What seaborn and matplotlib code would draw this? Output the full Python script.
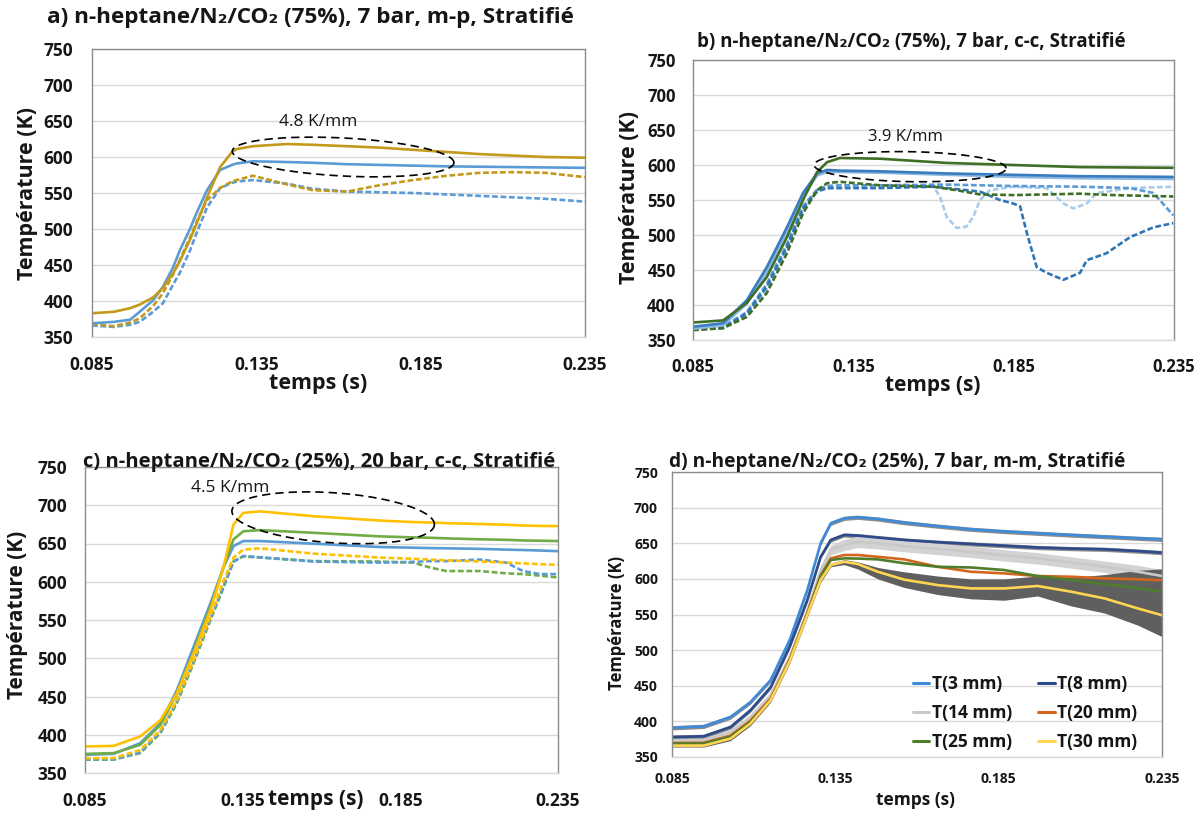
import numpy as np
import matplotlib
matplotlib.use("Agg")
import matplotlib.pyplot as plt
import seaborn as sns

# ---------------- data ----------------
XTICKS = [0.085, 0.135, 0.185, 0.235]
XTICK_LABELS = ["0.085", "0.135", "0.185", "0.235"]
YTICKS = [350, 400, 450, 500, 550, 600, 650, 700, 750]

TITLES = [
    "a) n-heptane/N\u2082/CO\u2082 (75%), 7 bar, m-p, Stratifi\u00e9",
    "b) n-heptane/N\u2082/CO\u2082 (75%), 7 bar, c-c, Stratifi\u00e9",
    "c) n-heptane/N\u2082/CO\u2082 (25%), 20 bar, c-c, Stratifi\u00e9",
    "d) n-heptane/N\u2082/CO\u2082 (25%), 7 bar, m-m, Stratifi\u00e9",
]
GRADIENTS = ["4.8 K/mm", "3.9 K/mm", "4.5 K/mm"]

# panel a
t_a = [0.085, 0.0916, 0.0966, 0.0995, 0.1036, 0.1066, 0.1097, 0.1117, 0.1148, 0.1168, 0.120, 0.124,
       0.1276, 0.129, 0.134, 0.1443, 0.152, 0.1626, 0.1727, 0.1827, 0.193, 0.203, 0.213, 0.223, 0.235]
a_gold = [383, 385, 390, 395, 405, 418, 439, 455, 485, 507, 544, 586, 607, 611, 615, 618, 617, 615, 613,
          610, 607, 604, 602, 600, 599]
a_blue = [369, 371, 374, 385, 401, 420, 447, 470, 500, 522, 554, 582, 589, 591, 594, 593, 592, 590, 589,
          588, 587, 586.5, 586, 585.5, 585]
a_gold_d = [368, 365, 370, 376, 393, 411, 437, 457, 488, 510, 540, 557, 566, 568, 574, 562, 554, 552, 561,
            568, 574, 578, 579, 578, 572]
a_blue_d = [366, 364, 367, 371, 385, 397, 423, 439, 470, 494, 530, 557, 564, 566, 568, 563, 556, 552, 551,
            550, 548, 546, 544, 542, 538]

# panel b
t_b_solid = [0.085, 0.0944, 0.1018, 0.108, 0.1143, 0.1193, 0.1237, 0.1268, 0.1308, 0.1433, 0.164, 0.1848,
             0.2057, 0.2346]
b_green = [375, 378, 403, 440, 497, 550, 590, 604, 610, 609, 603, 600, 597, 596]
b_blue = [369, 374, 407, 454, 511, 560, 588, 593, 592, 591, 588, 586, 584, 583]
b_lblue = [366, 371, 402, 448, 505, 555, 585, 590, 590, 589, 586, 583, 581, 580]
t_b_green_d = [0.085, 0.0944, 0.1018, 0.108, 0.1143, 0.1193, 0.1237, 0.1268, 0.1308, 0.1433, 0.16, 0.1672,
               0.1745, 0.1849, 0.1953, 0.2057, 0.2161, 0.2348]
b_green_d = [364, 367, 383, 417, 474, 531, 564, 574, 576, 571, 569, 564, 558, 557, 558, 559, 557, 555]
t_b_lblue_d = [0.085, 0.0944, 0.1018, 0.108, 0.1143, 0.1193, 0.1237, 0.1268, 0.1308, 0.1433, 0.16, 0.162,
               0.1641, 0.1672, 0.1703, 0.1724, 0.1745, 0.1776, 0.1849, 0.1953, 0.2005, 0.2036, 0.2078,
               0.2109, 0.2213, 0.2348]
b_lblue_d = [365, 368, 386, 422, 480, 535, 563, 567, 568, 569, 569, 555, 526, 510, 512, 526, 550, 564, 569,
             567, 545, 538, 545, 560, 567, 569]
t_b_blue_d = [0.085, 0.0944, 0.1018, 0.108, 0.1143, 0.1193, 0.1237, 0.1268, 0.1308, 0.1433, 0.16, 0.1745,
              0.1807, 0.1849, 0.187, 0.1891, 0.1922, 0.1953, 0.2005, 0.2057, 0.2078, 0.214, 0.2213, 0.2286,
              0.2348]
b_blue_d = [365, 367, 388, 426, 483, 538, 562, 567, 567, 567, 569, 562, 550, 545, 541, 503, 454, 446, 436,
            446, 464, 474, 497, 511, 517]
t_b_mblue_d = [0.085, 0.0944, 0.1018, 0.108, 0.1143, 0.1193, 0.1237, 0.1268, 0.1308, 0.1433, 0.164, 0.1848,
               0.2057, 0.2213, 0.2286, 0.2348]
b_mblue_d = [366, 369, 390, 430, 487, 541, 565, 570, 571, 571, 572, 570, 569, 567, 560, 528]

# panel c
t_c = [0.085, 0.0941, 0.1025, 0.1089, 0.1141, 0.1194, 0.1247, 0.1289, 0.1321, 0.1352, 0.1405, 0.1574,
       0.1785, 0.1891, 0.1944, 0.1996, 0.2102, 0.2186, 0.2239, 0.2292, 0.235]
c_yellow = [384.7, 385.5, 397.7, 419, 454, 506, 562, 618.6, 675, 690, 692, 685.7, 680, 678, 677.5, 676.6,
            675.5, 674.5, 673.5, 673, 672.7]
c_green = [375, 376, 386.8, 412.8, 454, 508, 566.6, 618.6, 655.4, 666, 667.5, 664, 659.3, 658, 657.5, 656.7,
           655.5, 654.8, 654, 653.6, 653.2]
c_blue = [373.8, 375, 389, 415, 458, 514.6, 571, 618.6, 646.7, 653.2, 653.2, 649.8, 645.4, 644.5, 644, 643.7,
          643, 642, 641.5, 640.8, 640]
c_yellow_d = [369.5, 369.5, 380, 406, 445, 497, 553.6, 601, 631.6, 642, 643.7, 636.8, 631.6, 630, 629, 628,
              626.5, 625, 624, 623, 622]
c_green_d = [367.3, 367.5, 376, 402, 441, 493, 549, 592, 627, 633, 631.6, 627, 626.4, 625, 618.6, 614, 614,
             611, 610, 608, 605.6]
c_blue_d = [368, 368, 377, 404, 444, 496, 551, 594, 626, 633.7, 632, 626.4, 625, 626, 627, 627, 629, 625,
            614, 610, 610]

# panel d
t_d = [0.085, 0.0947, 0.1029, 0.109, 0.1152, 0.121, 0.1264, 0.1305, 0.1336, 0.1377, 0.1418, 0.148, 0.156,
       0.1663, 0.1765, 0.1867, 0.1969, 0.2072, 0.2174, 0.2276, 0.235]
d_labels = ["T(3 mm)", "T(8 mm)", "T(14 mm)", "T(20 mm)", "T(25 mm)", "T(30 mm)"]
d_T3 = [391, 393, 406, 427, 458, 514, 584, 650, 678, 685, 686.5, 684, 679, 674, 669.6, 666.5, 664, 661.5,
        659.3, 657, 655.5]
d_T8 = [378, 379, 392, 415.6, 448, 504.6, 570, 631, 654.6, 661.6, 660.7, 658, 654.6, 651.5, 649, 646.5, 644,
        642.5, 641.5, 639, 636.8]
d_T14 = [373.4, 374, 385, 406, 437, 490, 555, 612, 640.5, 647.6, 652, 650, 646, 642, 638, 633, 628.8, 623,
         617, 610, 604]
d_T20 = [369.7, 370, 380, 401, 432, 487, 552, 605, 628.8, 633.5, 633.5, 631, 627.4, 617, 610, 607.7, 604, 603,
         600.7, 599.5, 598]
d_T25 = [368.7, 369, 378.5, 399, 430, 485, 550, 603, 626.5, 628.8, 628.5, 627.4, 622, 617, 616, 612.4, 604,
         598.4, 592.7, 587, 582]
d_T30 = [366, 366, 375.8, 396.9, 429.7, 484, 549, 598.4, 619.4, 624, 621, 610, 599, 591.3, 586.6, 586.6, 590,
         582, 572.6, 558.5, 549]
# scatter envelope (grey bands)
d_T30_hi = [368, 368, 378, 399, 432, 487, 552, 601, 622, 627, 624, 616, 610, 604, 600, 600, 604, 602, 606,
            612, 614]
d_T30_lo = [364, 364, 373, 394, 427, 481, 546, 595, 617, 620, 614, 600, 588, 578, 572, 570, 576, 562, 552,
            535, 519]
d_T14_spread = [2, 2, 2, 3, 3, 4, 5, 6, 7, 8, 8, 8, 8, 8, 8, 8, 8, 8, 8, 9, 9]
d_T3_spread = [3, 3, 3, 3, 3, 3, 3, 3, 3, 3, 3, 3, 3, 3, 3, 3, 3, 3, 3, 3, 3]

# ---------------- style ----------------
sns.set_theme(style="white")
FONT = ['Open Sans', 'DejaVu Sans']
plt.rcParams['font.family'] = FONT
plt.rcParams['font.weight'] = 'bold'
TXT = '#161616'

W, H = 1200, 818
fig = plt.figure(figsize=(W / 100, H / 100), dpi=100)
fig.patch.set_facecolor('white')


def make_ax(l, r, t, b):
    return fig.add_axes([l / W, 1 - b / H, (r - l) / W, (b - t) / H])


def style(ax, tick_fs, xpad, ypad):
    ax.set_xlim(0.085, 0.235)
    ax.set_ylim(350, 750)
    ax.set_xticks(XTICKS)
    ax.set_xticklabels(XTICK_LABELS, fontsize=tick_fs, fontweight='bold', color=TXT)
    ax.set_yticks(YTICKS)
    ax.set_yticklabels([str(v) for v in YTICKS], fontsize=tick_fs, fontweight='bold', color=TXT)
    ax.yaxis.grid(True, color='#D9D9D9', lw=1.0)
    ax.xaxis.grid(False)
    ax.set_axisbelow(True)
    for s in ['left', 'top', 'right']:
        ax.spines[s].set_color('#8C8C8C')
        ax.spines[s].set_linewidth(1.0)
        ax.spines[s].set_visible(True)
    ax.spines['bottom'].set_color('#D9D9D9')
    ax.spines['bottom'].set_linewidth(1.0)
    ax.tick_params(axis='x', length=0, pad=xpad)
    ax.tick_params(axis='y', length=0, pad=ypad)


def labels(ax, xl, yl, xfs, yfs):
    ax.set_xlabel("temps (s)", fontsize=xfs, fontweight='bold', color=TXT)
    ax.xaxis.set_label_coords(xl[0] / W, 1 - xl[1] / H, transform=fig.transFigure)
    ax.xaxis.label.set_va('center')
    ax.set_ylabel("Temp\u00e9rature (K)", fontsize=yfs, fontweight='bold', color=TXT)
    ax.yaxis.set_label_coords(yl[0] / W, 1 - yl[1] / H, transform=fig.transFigure)
    ax.yaxis.label.set_va('center')


def line(ax, t, T, color, dashed=False, lw=1.9, label=None):
    kw = dict(x=t, y=T, ax=ax, color=color, lw=lw, sort=False, estimator=None)
    if dashed:
        kw['linestyle'] = (0, (2.2, 1.0))
    if label is not None:
        kw['label'] = label
    else:
        kw['legend'] = False
    sns.lineplot(**kw)


def dashed_ellipse(ax, tc, Tc, w_px, h_px, ang):
    cx, cy = ax.transData.transform((tc, Tc))
    th = np.linspace(0, 2 * np.pi, 240)
    a, b = w_px / 2, h_px / 2
    c, s = np.cos(np.radians(ang)), np.sin(np.radians(ang))
    px = cx + a * np.cos(th) * c - b * np.sin(th) * s
    py = cy + a * np.cos(th) * s + b * np.sin(th) * c
    pts = ax.transData.inverted().transform(np.column_stack([px, py]))
    ax.plot(pts[:, 0], pts[:, 1], color='black', lw=1.2, ls=(0, (5, 3)), clip_on=False, zorder=5)


def title(x, y, s, fs):
    fig.text(x / W, 1 - y / H, s, fontsize=fs, fontweight='bold', ha='left', va='center', color=TXT)


GOLD = '#C49A1C'
BLUE = '#5B9BD5'

# ---------------- panel a ----------------
ax = make_ax(92, 585, 49, 337)
style(ax, 12.5, 14, 13.5)
line(ax, t_a, a_blue_d, BLUE, dashed=True)
line(ax, t_a, a_gold_d, GOLD, dashed=True)
line(ax, t_a, a_blue, BLUE)
line(ax, t_a, a_gold, GOLD)
dashed_ellipse(ax, 0.1614, 600, 222, 38, -3)
ax.text(0.1538, 649, GRADIENTS[0], fontsize=12.5, fontweight='normal', ha='center', va='center', color=TXT)
labels(ax, (318, 383), (28, 193), 15.5, 15.5)
title(47, 17, TITLES[0], 16.2)

# ---------------- panel b ----------------
ax = make_ax(693, 1174, 60, 340)
style(ax, 12, 13, 12.5)
line(ax, t_b_lblue_d, b_lblue_d, '#A9CBEA', dashed=True)
line(ax, t_b_mblue_d, b_mblue_d, BLUE, dashed=True)
line(ax, t_b_blue_d, b_blue_d, '#2E75B6', dashed=True)
line(ax, t_b_green_d, b_green_d, '#3F6E25', dashed=True)
line(ax, t_b_solid, b_lblue, '#8DB8E2')
line(ax, t_b_solid, b_blue, '#3A7CC0')
line(ax, t_b_solid, b_green, '#3F6E25')
dashed_ellipse(ax, 0.1527, 597.6, 192, 30, -1)
ax.text(0.1511, 640.4, GRADIENTS[1], fontsize=12, fontweight='normal', ha='center', va='center', color=TXT)
labels(ax, (933, 385), (630, 198), 15, 15.5)
title(697, 42, TITLES[1], 13.5)

# ---------------- panel c ----------------
ax = make_ax(85, 558, 467, 773)
style(ax, 12.5, 14, 13)
YEL = '#FFC000'
GRN = '#70AD47'
line(ax, t_c, c_green_d, GRN, dashed=True)
line(ax, t_c, c_blue_d, BLUE, dashed=True)
line(ax, t_c, c_yellow_d, YEL, dashed=True)
line(ax, t_c, c_blue, BLUE)
line(ax, t_c, c_green, GRN)
line(ax, t_c, c_yellow, YEL)
dashed_ellipse(ax, 0.1637, 683.6, 203, 50, -4)
ax.text(0.131, 722.6, GRADIENTS[2], fontsize=12.5, fontweight='normal', ha='center', va='center', color=TXT)
labels(ax, (316, 800), (18, 615), 15, 15)
title(83, 462, TITLES[2], 14.6)

# ---------------- panel d ----------------
ax = make_ax(672, 1162, 472, 757)
style(ax, 10, 11, 10)
t_arr = np.array(t_d)
T3 = np.array(d_T3)
T8 = np.array(d_T8)
T14 = np.array(d_T14)
sp3 = np.array(d_T3_spread)
sp14 = np.array(d_T14_spread)
ax.fill_between(t_arr, T3 - sp3, T3 + sp3, color='#8C8C8C', lw=0)
ax.fill_between(t_arr, T8 - sp3, T8 + sp3, color='#8C8C8C', lw=0)
ax.fill_between(t_arr, T14 - sp14, T14 + sp14, color='#D3D3D3', lw=0)
ax.fill_between(t_arr, d_T30_lo, d_T30_hi, color='#5F5F5F', lw=0)
d_colors = ['#3D8BD9', '#2D4B8A', '#C9C9C9', '#D3661D', '#4E7D2B', '#FFD551']
for T, col, lab in zip([d_T3, d_T8, d_T14, d_T20, d_T25, d_T30], d_colors, d_labels):
    line(ax, t_d, T, col, lw=1.9, label=lab)
handles, labs = ax.get_legend_handles_labels()
order = [0, 2, 4, 1, 3, 5]   # row-major reading: 3 | 8, 14 | 20, 25 | 30
leg = ax.legend([handles[i] for i in order], [labs[i] for i in order], ncol=2, loc='center',
                bbox_to_anchor=(1025 / W, 1 - 713 / H), bbox_transform=fig.transFigure, frameon=False,
                handlelength=0.95, handletextpad=0.15, columnspacing=1.5, labelspacing=0.62,
                prop={'weight': 'bold', 'size': 12.5, 'family': FONT})
for lh in leg.get_lines():
    lh.set_linewidth(2.2)
for tx in leg.get_texts():
    tx.set_color(TXT)
labels(ax, (915, 800), (617, 623), 12.5, 12)
title(669, 462, TITLES[3], 13.8)

fig.savefig("out.png", dpi=100, facecolor='white')
